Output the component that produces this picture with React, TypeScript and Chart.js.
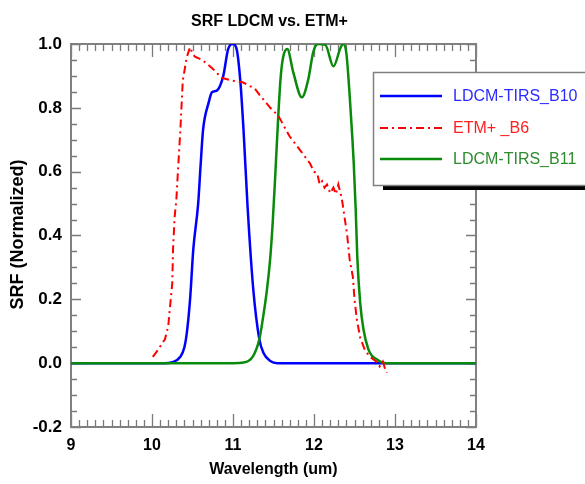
import React, { useEffect, useRef } from 'react';
import { Chart, registerables } from 'chart.js';

Chart.register(...registerables);

const FONT = "'Liberation Sans', Arial, Helvetica, sans-serif";

const chartTitle = 'SRF LDCM vs. ETM+';
const xAxisTitle = 'Wavelength (um)';
const yAxisTitle = 'SRF (Normalized)';
const xTickValues = [9, 10, 11, 12, 13, 14];
const yTickValues = [-0.2, 0, 0.2, 0.4, 0.6, 0.8, 1.0];
const seriesNames = ['LDCM-TIRS_B10', 'ETM+ _B6', 'LDCM-TIRS_B11'];

const b10Wavelength = [9.0, 10.15, 10.25, 10.35, 10.4, 10.43, 10.47, 10.51, 10.57, 10.6, 10.63, 10.7, 10.74, 10.8, 10.88, 10.94, 11.0, 11.045, 11.09, 11.13, 11.18, 11.25, 11.325, 11.375, 11.46, 11.55, 14.0];
const b10Response = [0, 0, 0.003, 0.02, 0.05, 0.095, 0.2, 0.357, 0.5, 0.62, 0.73, 0.817, 0.849, 0.854, 0.9, 0.984, 1.0, 0.984, 0.885, 0.73, 0.49, 0.232, 0.075, 0.033, 0.007, 0, 0];

const b6Wavelength = [10.01, 10.07, 10.12, 10.16, 10.2, 10.22, 10.25, 10.26, 10.28, 10.3, 10.32, 10.35, 10.38, 10.43, 10.47, 10.5, 10.53, 10.62, 10.74, 10.86, 10.99, 11.12, 11.27, 11.33, 11.46, 11.56, 11.7, 11.83, 11.95, 12.0, 12.04, 12.07, 12.1, 12.13, 12.16, 12.2, 12.24, 12.27, 12.3, 12.33, 12.35, 12.41, 12.44, 12.48, 12.5, 12.53, 12.57, 12.63, 12.69, 12.78, 12.81, 12.85, 12.88, 12.9];
const b6Response = [0.02, 0.04, 0.06, 0.075, 0.115, 0.17, 0.25, 0.36, 0.46, 0.51, 0.6, 0.73, 0.885, 0.96, 0.99, 0.97, 0.96, 0.95, 0.925, 0.894, 0.885, 0.88, 0.86, 0.84, 0.8, 0.775, 0.71, 0.667, 0.626, 0.6, 0.595, 0.56, 0.57, 0.55, 0.56, 0.533, 0.55, 0.53, 0.56, 0.53, 0.505, 0.4, 0.325, 0.27, 0.2, 0.135, 0.08, 0.04, 0.02, 0.003, -0.01, 0.005, -0.02, -0.03];

const b11Wavelength = [9.0, 11.0, 11.13, 11.25, 11.325, 11.355, 11.42, 11.46, 11.49, 11.52, 11.56, 11.59, 11.62, 11.67, 11.745, 11.85, 11.93, 11.99, 12.05, 12.14, 12.24, 12.33, 12.36, 12.4, 12.44, 12.47, 12.49, 12.515, 12.535, 12.57, 12.61, 12.67, 12.72, 12.77, 12.84, 12.9, 14.0];
const b11Response = [0, 0, 0.002, 0.023, 0.075, 0.117, 0.232, 0.33, 0.44, 0.58, 0.78, 0.9, 0.96, 0.984, 0.91, 0.833, 0.89, 0.974, 1.0, 0.997, 0.93, 0.99, 1.0, 0.97, 0.84, 0.72, 0.63, 0.48, 0.33, 0.19, 0.107, 0.044, 0.022, 0.013, 0.002, 0, 0];

const toPoints = (xs: number[], ys: number[]) => xs.map((x, i) => ({ x, y: ys[i] }));

const RED_DASH = [8, 4, 2, 4];

const framePlugin = {
  id: 'frameTicks',
  beforeDatasetsDraw(chart: any) {
    const { ctx, chartArea, scales } = chart;
    const { left, right, top, bottom } = chartArea;
    const xs = scales.x;
    const ys = scales.y;
    ctx.save();
    ctx.strokeStyle = '#7a7a7a';
    ctx.lineWidth = 1.3;
    ctx.beginPath();
    for (let i = 0; i <= 50; i++) {
      const v = 9 + i * 0.1;
      const px = Math.round(xs.getPixelForValue(v)) + 0.5;
      const len = i % 10 === 0 ? 13 : 7;
      ctx.moveTo(px, bottom);
      ctx.lineTo(px, bottom - len);
      ctx.moveTo(px, top);
      ctx.lineTo(px, top + len);
    }
    for (let i = 0; i <= 24; i++) {
      const v = -0.2 + i * 0.05;
      const py = Math.round(ys.getPixelForValue(v)) + 0.5;
      const len = i % 4 === 0 ? 10 : 6;
      ctx.moveTo(left, py);
      ctx.lineTo(left + len, py);
      ctx.moveTo(right, py);
      ctx.lineTo(right - len, py);
    }
    ctx.stroke();
    ctx.strokeStyle = '#808080';
    ctx.lineWidth = 2;
    ctx.strokeRect(left, top, right - left, bottom - top);
    ctx.restore();
  },
};

const decorPlugin = {
  id: 'decor',
  afterDraw(chart: any) {
    const { ctx, chartArea } = chart;
    const { left, right, top, bottom } = chartArea;
    const cx = (left + right) / 2;
    ctx.save();
    ctx.fillStyle = '#000';
    ctx.textAlign = 'center';
    ctx.textBaseline = 'middle';
    ctx.font = `bold 16px ${FONT}`;
    ctx.fillText(chartTitle, cx - 4, 22);
    ctx.fillText(xAxisTitle, cx, 470);

    // y axis title
    ctx.save();
    ctx.translate(18, (top + bottom) / 2 - 1);
    ctx.rotate(-Math.PI / 2);
    ctx.font = `bold 18px ${FONT}`;
    ctx.textAlign = 'center';
    ctx.fillText(yAxisTitle, 0, 0);
    ctx.restore();

    // legend
    const bx = 373;
    const by = 72;
    const bw = 230;
    const bh = 113;
    ctx.fillStyle = '#000';
    ctx.fillRect(bx + 10, by + 4, bw, bh + 1);
    ctx.fillStyle = '#fff';
    ctx.fillRect(bx, by, bw, bh);
    ctx.strokeStyle = '#808080';
    ctx.lineWidth = 1.5;
    ctx.strokeRect(bx + 0.5, by + 0.5, bw, bh);
    const rows = [96, 128, 159];
    const ds = chart.data.datasets;
    ctx.font = `16px ${FONT}`;
    ctx.textAlign = 'left';
    ctx.textBaseline = 'middle';
    ds.forEach((d: any, k: number) => {
      const y = rows[k];
      ctx.save();
      ctx.strokeStyle = d.borderColor;
      ctx.lineWidth = d.borderWidth;
      ctx.setLineDash(d.borderDash || []);
      ctx.beginPath();
      ctx.moveTo(380, y);
      ctx.lineTo(442, y);
      ctx.stroke();
      ctx.restore();
      ctx.fillStyle = d.legendTextColor;
      ctx.fillText(d.label, 453, y + 1);
    });
    ctx.restore();
  },
};

export default function App() {
  const ref = useRef<HTMLCanvasElement>(null);
  useEffect(() => {
    const canvas = ref.current;
    if (!canvas) return;
    const chart = new Chart(canvas, {
      type: 'line',
      data: {
        datasets: [
          {
            label: seriesNames[0],
            data: toPoints(b10Wavelength, b10Response),
            borderColor: '#0000ff',
            borderWidth: 2.5,
            pointRadius: 0,
            cubicInterpolationMode: 'monotone',
            fill: false,
            order: 2,
            legendTextColor: '#2b2bff',
          } as any,
          {
            label: seriesNames[1],
            data: toPoints(b6Wavelength, b6Response),
            borderColor: '#ff0000',
            borderWidth: 2,
            borderDash: RED_DASH,
            pointRadius: 0,
            tension: 0,
            fill: false,
            order: 0,
            legendTextColor: '#ff2020',
          } as any,
          {
            label: seriesNames[2],
            data: toPoints(b11Wavelength, b11Response),
            borderColor: '#0a8a0a',
            borderWidth: 2.5,
            pointRadius: 0,
            cubicInterpolationMode: 'monotone',
            fill: false,
            order: 1,
            legendTextColor: '#2e8b2e',
          } as any,
        ],
      },
      options: {
        responsive: false,
        animation: false,
        devicePixelRatio: 1,
        layout: { padding: { top: 44, right: 109, bottom: 0, left: 0 } },
        plugins: {
          legend: { display: false },
          title: { display: false },
          tooltip: { enabled: false },
        },
        scales: {
          x: {
            type: 'linear',
            min: 9,
            max: 14,
            afterFit: (s: any) => {
              s.height = 57;
            },
            afterBuildTicks: (s: any) => {
              s.ticks = xTickValues.map((v) => ({ value: v }));
            },
            ticks: {
              font: { family: FONT, size: 16, weight: 'bold' },
              color: '#000',
              padding: 9,
              maxRotation: 0,
              autoSkip: false,
              callback: (v: any) => String(v),
            },
            grid: { display: false, drawTicks: false },
            border: { display: false },
          },
          y: {
            type: 'linear',
            min: -0.2,
            max: 1.0,
            afterFit: (s: any) => {
              s.width = 71;
            },
            afterBuildTicks: (s: any) => {
              s.ticks = yTickValues.map((v) => ({ value: v }));
            },
            ticks: {
              font: { family: FONT, size: 17, weight: 'bold' },
              color: '#000',
              padding: 9,
              autoSkip: false,
              callback: (v: any) => Number(v).toFixed(1),
            },
            grid: { display: false, drawTicks: false },
            border: { display: false },
          },
        },
      } as any,
      plugins: [framePlugin, decorPlugin],
    });
    return () => chart.destroy();
  }, []);
  return (
    <div style={{ position: 'absolute', left: 0, top: 0, width: 585, height: 484, background: '#fff' }}>
      <canvas ref={ref} width={585} height={484} style={{ display: 'block', width: 585, height: 484 }} />
    </div>
  );
}
